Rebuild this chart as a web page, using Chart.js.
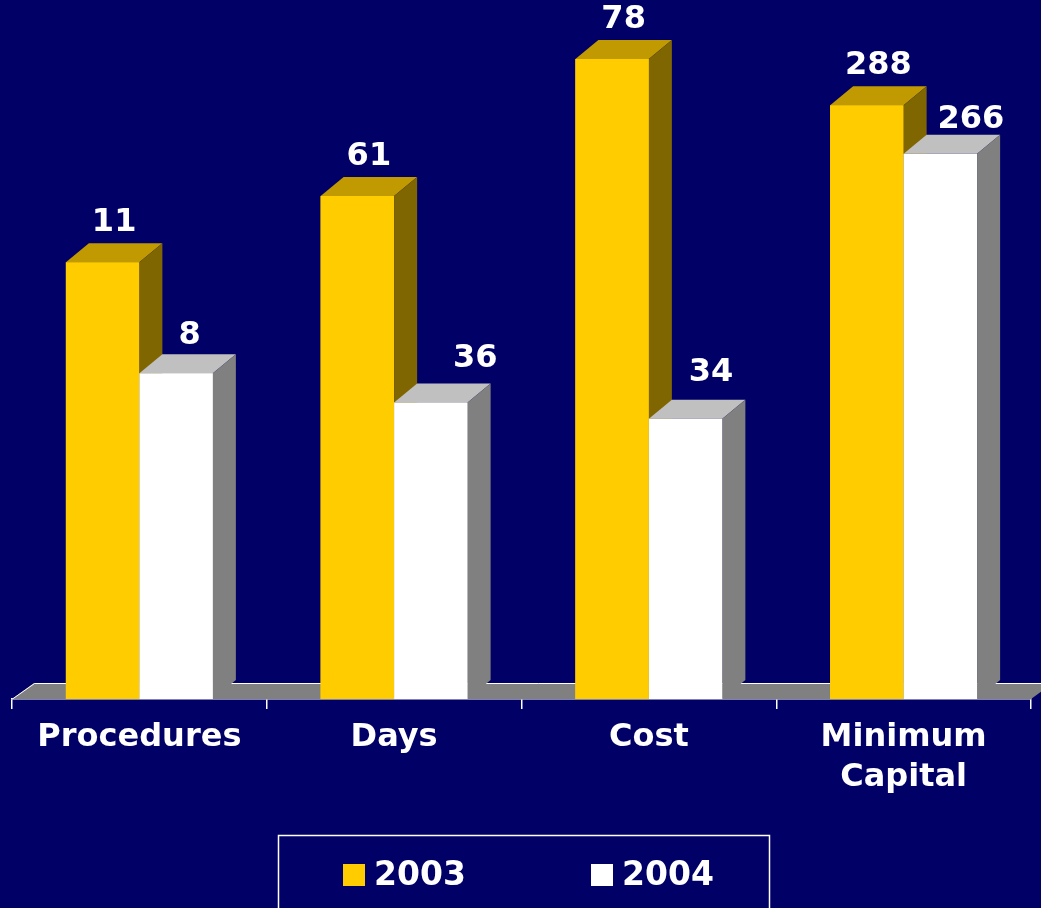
<!DOCTYPE html>
<html>
<head>
<meta charset="utf-8">
<script src="https://cdn.jsdelivr.net/npm/chart.js@4/dist/chart.umd.min.js"></script>
<style>
  html, body { margin: 0; padding: 0; background: #000066; }
  #wrap { width: 1041px; height: 908px; position: relative; }
</style>
</head>
<body>
<div id="wrap"><canvas id="chart"></canvas></div>
<script>
// data
const categories = ['Procedures', 'Days', 'Cost', ['Minimum', 'Capital']];
const years = ['2003', '2004'];
const values2003 = [11, 61, 78, 288];   // printed labels
const values2004 = [8, 36, 34, 266];
// bar heights as drawn (each category is on its own scale in the source), % of axis
const heights2003 = [67.3, 77.5, 98.6, 91.5];
const heights2004 = [50.2, 45.7, 43.2, 84.0];

const FONT = '"DejaVu Sans", Verdana, sans-serif';
const faces = [
    { front: '#FFCC00', top: '#C09A00', side: '#806600' },
    { front: '#FFFFFF', top: '#C0C0C0', side: '#808080' }
];
const DX = 23, DY = 19;
// the source nudged some of the 2004 labels by hand
const labelNudge = [
    [[0, 0], [0, 0], [0, 0], [0, 0]],
    [[2, 2], [33, -4], [14, -7], [19, 5]]
];

const bar3d = {
    id: 'bar3d',
    beforeDatasetsDraw(chart) {
        const { ctx, chartArea: a } = chart;
        // grey floor
        ctx.save();
        ctx.fillStyle = '#808080';
        ctx.strokeStyle = '#FFFFFF';
        ctx.lineWidth = 1;
        ctx.beginPath();
        ctx.moveTo(a.left, a.bottom);
        ctx.lineTo(a.left + 22, a.bottom - 16);
        ctx.lineTo(a.right + 22, a.bottom - 16);
        ctx.lineTo(a.right, a.bottom);
        ctx.closePath();
        ctx.fill();
        ctx.beginPath();
        ctx.moveTo(a.left + 0.5, a.bottom);
        ctx.lineTo(a.left + 22.5, a.bottom - 15.5);
        ctx.lineTo(a.right + 22, a.bottom - 15.5);
        ctx.stroke();
        ctx.restore();
    },
    afterDatasetsDraw(chart) {
        const ctx = chart.ctx;
        const metas = chart.data.datasets.map((d, i) => chart.getDatasetMeta(i));
        const n = chart.data.labels.length;
        ctx.save();
        for (let c = 0; c < n; c++) {
            metas.forEach((meta, di) => {
                const el = meta.data[c];
                const f = faces[di];
                const l = el.x - el.width / 2, r = el.x + el.width / 2;
                const t = el.y, b = el.base;
                ctx.fillStyle = f.front;
                ctx.fillRect(l, t, r - l, b - t);
                ctx.fillStyle = f.top;
                ctx.beginPath();
                ctx.moveTo(l, t); ctx.lineTo(l + DX, t - DY);
                ctx.lineTo(r + DX, t - DY); ctx.lineTo(r, t);
                ctx.closePath(); ctx.fill();
                ctx.fillStyle = f.side;
                ctx.beginPath();
                ctx.moveTo(r, t); ctx.lineTo(r + DX, t - DY);
                ctx.lineTo(r + DX, b - DY); ctx.lineTo(r, b);
                ctx.closePath(); ctx.fill();
            });
        }
        // value labels
        ctx.fillStyle = '#FFFFFF';
        ctx.font = 'bold 32px ' + FONT;
        ctx.textAlign = 'center';
        ctx.textBaseline = 'alphabetic';
        metas.forEach((meta, di) => {
            const vals = chart.data.datasets[di].labelValues;
            meta.data.forEach((el, c) => {
                const [nx, ny] = labelNudge[di][c];
                ctx.fillText(String(vals[c]), el.x + DX / 2 + nx, el.y - DY - 12 + ny);
            });
        });
        ctx.restore();
    },
    afterDraw(chart) {
        // legend box
        const ctx = chart.ctx;
        ctx.save();
        ctx.strokeStyle = '#FFFFFF';
        ctx.lineWidth = 1.5;
        ctx.strokeRect(278.5, 835.5, 491, 90);
        ctx.font = 'bold 33px ' + FONT;
        ctx.textBaseline = 'middle';
        ctx.textAlign = 'left';
        const xs = [343, 591];
        chart.data.datasets.forEach((ds, i) => {
            ctx.fillStyle = faces[i].front;
            ctx.fillRect(xs[i], 864, 22, 22);
            ctx.fillStyle = '#FFFFFF';
            ctx.fillText(ds.label, xs[i] + 31, 876);
        });
        ctx.restore();
    }
};

const ctx = document.getElementById('chart').getContext('2d');
const chart = new Chart(ctx, {
    type: 'bar',
    data: {
        labels: categories,
        datasets: [
            { label: years[0], data: heights2003, labelValues: values2003, backgroundColor: faces[0].front },
            { label: years[1], data: heights2004, labelValues: values2004, backgroundColor: faces[1].front }
        ]
    },
    options: {
        responsive: true, maintainAspectRatio: false, animation: false,
        layout: { padding: { top: 50, left: 12, right: 10, bottom: 0 } },
        categoryPercentage: 0.577, barPercentage: 1,
        plugins: { legend: { display: false }, tooltip: { enabled: false } },
        scales: {
            y: { display: false, min: 0, max: 100 },
            x: {
                afterFit(scale) { scale.height = 209; },
                border: { display: true, color: '#FFFFFF', width: 1.5 },
                grid: { display: true, drawOnChartArea: false, color: '#FFFFFF', tickLength: 10, offset: true, lineWidth: 1.5 },
                ticks: {
                    color: '#FFFFFF', padding: 8, maxRotation: 0,
                    font: { family: FONT, size: 32, weight: 'bold', lineHeight: 1.27 }
                }
            }
        }
    },
    plugins: [bar3d]
});
</script>
</body>
</html>
